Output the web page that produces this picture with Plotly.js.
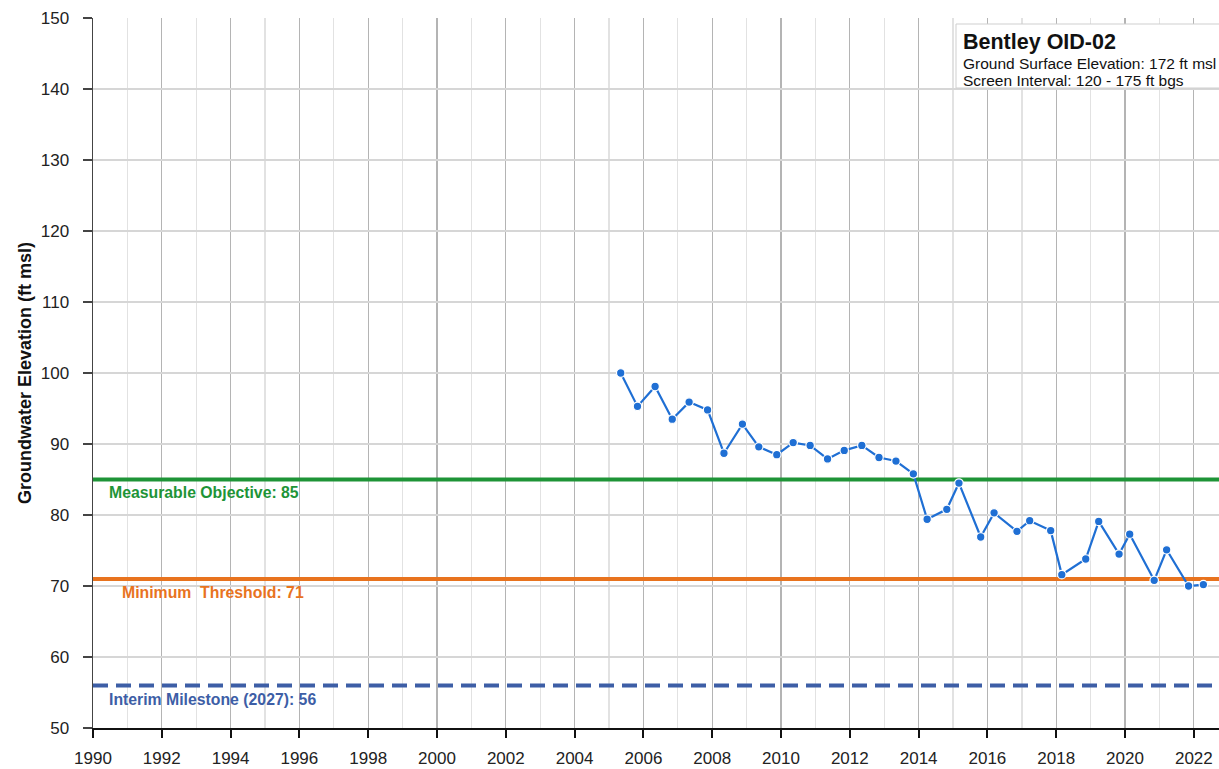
<!DOCTYPE html>
<html><head><meta charset="utf-8">
<script src="https://cdn.plot.ly/plotly-3.0.1.min.js"></script>
<style>html,body{margin:0;padding:0;background:#fff;}#chart{width:1219px;height:769px;}</style>
</head><body><div id="chart"></div>
<script>
const dates = ["2005-05-05","2005-10-30","2006-05-05","2006-11-03","2007-05-01","2007-11-13","2008-05-05","2008-11-17","2009-05-10","2009-11-17","2010-05-10","2010-11-06","2011-05-10","2011-11-03","2012-05-08","2012-11-06","2013-05-05","2013-11-06","2014-04-01","2014-10-27","2015-03-05","2015-10-22","2016-03-12","2016-11-10","2017-03-25","2017-11-03","2018-03-01","2018-11-10","2019-03-28","2019-10-30","2020-02-20","2020-11-06","2021-03-18","2021-11-06","2022-04-12"];
const elev = [100.0,95.3,98.1,93.5,95.9,94.8,88.7,92.8,89.6,88.5,90.2,89.8,87.9,89.1,89.8,88.1,87.6,85.8,79.4,80.8,84.5,76.9,80.3,77.7,79.2,77.8,71.6,73.8,79.1,74.5,77.3,70.8,75.1,70.0,70.2];
const thresholdNames = ["Measurable Objective: 85","Minimum  Threshold: 71","Interim Milestone (2027): 56"];
const thresholdValues = [85,71,56];
const thresholdColors = ["#1e9437","#e8731e","#3d5ea6"];
const thresholdDash = ["solid","solid","15px,8px"];
const xStart = "1990-01-01", xEnd = "2022-09-25";
const infoTitle = "Bentley OID-02";
const infoLines = ["Ground Surface Elevation: 172 ft msl","Screen Interval: 120 - 175 ft bgs"];

const font = "Liberation Sans, Arial, sans-serif";
const traces = thresholdValues.map((v,i)=>({
  x:[xStart,xEnd], y:[v,v], mode:"lines", type:"scatter", hoverinfo:"skip",
  line:{color:thresholdColors[i], width:4, dash:thresholdDash[i]}, showlegend:false
}));
traces.push({x:dates, y:elev, mode:"lines+markers", type:"scatter", showlegend:false,
  line:{color:"#1f6fd4", width:2.2},
  marker:{color:"#1f6fd4", size:8.5, line:{color:"#ffffff", width:1.2}}});

const labelY = [83.2, 69.1, 54.0];
const labelX = [0.0125, 0.024, 0.0125];
const annotations = thresholdNames.map((t,i)=>({
  text:"<b>"+t+"</b>", xref:"paper", yref:"y", x:labelX[i], y:labelY[i],
  xanchor:"left", yanchor:"middle", showarrow:false,
  font:{family:font, size:15.8, color:thresholdColors[i]}
}));
annotations.push({text:"<b>"+infoTitle+"</b>", xref:"paper", yref:"paper", x:(961-93)/1126, y:1-(42-18)/710,
  xanchor:"left", yanchor:"middle", showarrow:false, font:{family:font, size:21.5, color:"#111"}});
infoLines.forEach((t,i)=>annotations.push({text:t, xref:"paper", yref:"paper", x:(961-93)/1126, y:1-((i?80.5:63)-18)/710,
  xanchor:"left", yanchor:"middle", showarrow:false, font:{family:font, size:15.5, color:"#111"}}));

const layout = {
  width:1219, height:769, margin:{l:93, r:0, t:18, b:41},
  paper_bgcolor:"#fff", plot_bgcolor:"#fff",
  font:{family:font, color:"#222"},
  xaxis:{type:"date", range:[xStart,xEnd], dtick:"M24", tick0:"1990-01-01", tickformat:"%Y",
    showgrid:true, gridcolor:"#b4b4b4", gridwidth:1.3,
    minor:{dtick:"M12", tick0:"1990-01-01", showgrid:true, gridcolor:"#e2e2e2", gridwidth:1.3},
    showline:true, linecolor:"#111", linewidth:2, ticks:"outside", ticklen:8, tickcolor:"#111", tickwidth:2,
    ticklabelstandoff:6,
    tickfont:{size:17, color:"#222"}, zeroline:false, fixedrange:true},
  yaxis:{range:[50,150], dtick:10, showgrid:true, gridcolor:"#d6d6d6", gridwidth:1.3,
    showline:true, linecolor:"#444", linewidth:1.5, ticks:"outside", ticklen:9, tickcolor:"#444", tickwidth:1.5,
    ticklabelstandoff:10,
    tickfont:{size:17, color:"#222"}, zeroline:false,
    title:{text:"<b>Groundwater Elevation (ft msl)</b>", font:{size:18, color:"#111"}, standoff:4}},
  shapes:[{type:"rect", xref:"paper", yref:"paper", x0:(956-93)/1126, x1:1.01, y0:1-(88-18)/710, y1:1-(24-18)/710,
    fillcolor:"#fff", line:{color:"#cfcfcf", width:1}, layer:"above"}],
  annotations:annotations
};
Plotly.newPlot("chart", traces, layout, {displayModeBar:false, staticPlot:true});
</script></body></html>
